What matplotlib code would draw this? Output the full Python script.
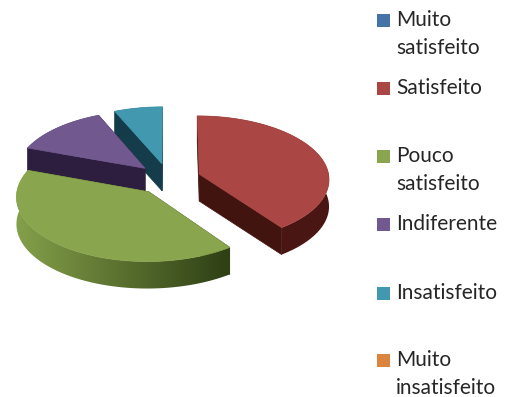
#!/usr/bin/env python

import numpy as np
import matplotlib
matplotlib.use("Agg")
import matplotlib.pyplot as plt
from matplotlib.colors import to_rgb
from matplotlib.patches import Polygon

labels = ["Muito\nsatisfeito", "Satisfeito", "Pouco\nsatisfeito", "Indiferente", "Insatisfeito", "Muito\ninsatisfeito"]
values = [0, 40, 40.5, 13, 6.5, 0]
colors = ["#4572A7", "#AA4643", "#89A54E", "#71588F", "#4198AF", "#DB843D"]
rim_left = ["#24394f", "#4a1613", "#84a04a", "#2d1e40", "#143c4a", "#6e421e"]
rim_right = ["#24394f", "#4a1613", "#2e3f14", "#2d1e40", "#143c4a", "#6e421e"]
face_colors = ["#24394f", "#421410", "#2e3f14", "#2d1e40", "#143c4a", "#6e421e"]

# legend layout (pixels)
legend_y = [20, 88, 156, 224, 293, 360]

# pie geometry (pixels)
cx, cy = 168.5, 179
rx, ry = 130, 63
persp = 0.07
explode = 0.25
depth = 27


def project(u, v):
    s = 1.0 / (1.0 + persp * v)
    return cx + rx * u * s, cy - ry * v * s


fig = plt.figure(figsize=(5.05, 3.97), dpi=100)
ax = fig.add_axes([0, 0, 1, 1])

total = float(sum(values))
edges = np.cumsum([0] + values) / total * 2 * np.pi

# back to front: teal, purple, red, green
for i in [4, 3, 1, 2, 0, 5]:
    if values[i] == 0:
        continue
    t0, t1 = edges[i], edges[i + 1]
    mid = (t0 + t1) / 2
    ou, ov = explode * np.sin(mid), explode * np.cos(mid)
    th = np.linspace(t0, t1, 90)
    x, y = project(ou + np.sin(th), ov + np.cos(th))
    ax0, ay0 = project(ou, ov)

    # cut faces
    for k in [0, -1]:
        ax.fill([ax0, x[k], x[k], ax0], [ay0, y[k], y[k] + depth, ay0 + depth],
                color=face_colors[i], lw=0.5)

    # outer rim, gradient along x clipped to the rim outline
    rim = Polygon(np.c_[np.r_[x, x[::-1]], np.r_[y, y[::-1] + depth]], closed=True,
                  transform=ax.transData, fc="none", ec="none")
    ax.add_patch(rim)
    grad = np.linspace(np.array(to_rgb(rim_left[i])), np.array(to_rgb(rim_right[i])), 128)[None, :, :]
    im = ax.imshow(grad, extent=[x.min(), x.max(), y.max() + depth, y.min()],
                   aspect="auto", interpolation="bilinear")
    im.set_clip_path(rim)
    im.set_zorder(rim.get_zorder())

    # top
    ax.fill(np.r_[ax0, x], np.r_[ay0, y], color=colors[i], lw=0.5)

# legend
for lab, col, ly in zip(labels, colors, legend_y):
    ax.fill([377, 390, 390, 377], [ly - 6.5, ly - 6.5, ly + 6.5, ly + 6.5], color=col, lw=0)
    ax.text(396, ly - 10, lab, family="Lato", fontsize=15, color="#262626",
            va="top", ha="left", linespacing=1.5)

ax.set_xlim(0, 505)
ax.set_ylim(397, 0)
ax.axis("off")

fig.savefig("out.png", dpi=100)
